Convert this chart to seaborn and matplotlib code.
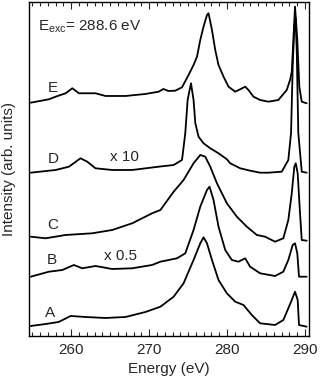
import matplotlib
matplotlib.use("Agg")
import matplotlib.pyplot as plt
import seaborn as sns
from matplotlib.ticker import MultipleLocator

# spectra (energy in eV, intensity in arb. units incl. offset)
energy_e = [254.82, 257.16, 258.02, 259.30, 260.15, 261.00, 262.28, 263.13, 264.41, 266.97,
            269.53, 271.23, 271.83, 272.47, 273.36, 274.22, 275.06, 275.70, 276.14, 276.56,
            276.98, 277.42, 277.62, 278.06, 278.48, 278.90, 279.54, 280.18, 281.04, 281.68,
            282.32, 282.74, 283.38, 284.23, 285.29, 286.57, 287.65, 288.07, 288.29, 288.71,
            289.00, 289.26, 289.57, 290.20]
inten_e = [233.3, 236.7, 239.3, 242.7, 247.7, 242.7, 242.7, 242.7, 240, 240,
           242, 244.3, 247, 245, 245.3, 248.7, 261, 271, 279.3, 296,
           309.3, 321, 322.7, 306, 286, 271, 259.3, 249.3, 244.3, 246.7,
           249.3, 246, 239.3, 236, 234.3, 236, 246, 256, 264.3, 329.3,
           296, 249.3, 234.3, 232.7]

energy_d = [254.82, 258.02, 259.72, 261.21, 262.07, 263.13, 265.27, 267.83, 271.23, 273.15,
            274.22, 274.64, 274.94, 275.37, 275.70, 275.92, 276.34, 276.98, 277.84, 278.90,
            279.97, 280.40, 281.68, 282.96, 284.23, 285.29, 287.01, 287.85, 288.20, 288.41,
            288.62, 288.77, 288.93, 289.13, 289.57, 290.20]
inten_d = [163.3, 166, 169.3, 177.7, 174.3, 167.7, 166, 166, 169.3, 171,
           176, 203, 236, 252.7, 236, 213, 199.3, 192.7, 187.7, 182.7,
           176.7, 172.7, 167.7, 165.3, 163.3, 163.3, 164.3, 176, 203, 269.3,
           309.3, 318, 286, 203, 164.3, 163.3]

energy_c = [254.82, 256.74, 259.30, 262.71, 265.27, 267.83, 270.38, 271.45, 273.15, 274.42,
            275.70, 276.56, 277.20, 277.84, 278.70, 279.97, 281.25, 282.53, 283.81, 284.87,
            286.15, 287.21, 287.85, 288.29, 288.62, 288.80, 289.05, 289.35, 289.57, 290.20]
inten_c = [99.3, 97.7, 101, 102.7, 106, 112.7, 122.7, 126, 144.3, 156,
           172.7, 181, 179.3, 169.3, 152.7, 132.7, 119.3, 109.3, 101, 99.3,
           94.3, 97.7, 116, 142.7, 169.3, 172.7, 162.7, 122.7, 96, 95.3]

energy_b = [254.82, 257.16, 258.87, 260.36, 261.43, 263.13, 265.27, 267.83, 270.38, 271.45,
            273.58, 274.64, 275.70, 276.56, 277.42, 277.75, 278.26, 278.90, 279.76, 280.61,
            281.46, 282.32, 282.95, 284.23, 286.15, 287.21, 287.85, 288.41, 288.71, 289.00,
            289.22, 290.20]
inten_b = [59.3, 64.3, 66, 71, 67.7, 70, 67, 67.7, 71, 74.3,
           77.7, 82.7, 106, 129.3, 146, 149.3, 136, 109.3, 86, 76,
           74.3, 77.7, 69.3, 62.7, 60, 64.3, 76, 91, 92.7, 82.7,
           59.3, 59.3]

energy_a = [254.82, 256.74, 258.40, 259.94, 261.85, 264.41, 266.97, 269.53, 271.45, 273.15,
            274.42, 275.70, 276.56, 276.98, 277.42, 278.06, 278.90, 279.97, 281.04, 282.10,
            283.17, 284.23, 286.15, 287.21, 287.85, 288.29, 288.71, 289.05, 289.22, 290.20]
inten_a = [10, 12, 14, 20, 19, 18, 19, 24, 29.3, 39.3,
           52.7, 76, 92.7, 98.7, 92.7, 76, 56, 42.7, 34.3, 31,
           21, 12.7, 11, 16, 27.7, 36, 44.3, 36, 11, 9.3]

curve_names = ["A", "B", "C", "D", "E"]
curve_label_x = [257.25, 257.5, 257.63, 257.76, 257.63]
curve_label_y = [23, 76, 111, 177, 248]
scale_notes = [("x 10", 265.05, 179), ("x 0.5", 264.16, 80)]

sns.set_style("ticks")
plt.rcParams["font.family"] = ["Liberation Sans", "DejaVu Sans"]
plt.rcParams["mathtext.fontset"] = "custom"
plt.rcParams["mathtext.rm"] = "Liberation Sans"
plt.rcParams["mathtext.it"] = "Liberation Sans"

fig = plt.figure(figsize=(3.2, 3.8), dpi=100)
ax = fig.add_axes([0.0906, 0.1158, 0.875, 0.879])

for xs, ys in [(energy_a, inten_a), (energy_b, inten_b), (energy_c, inten_c),
               (energy_d, inten_d), (energy_e, inten_e)]:
    sns.lineplot(x=xs, y=ys, ax=ax, color="black", lw=1.3)

for name, lx, ly in zip(curve_names, curve_label_x, curve_label_y):
    ax.text(lx, ly, name, fontsize=11, ha="center", va="center")
for txt, lx, ly in scale_notes:
    ax.text(lx, ly, txt, fontsize=11, ha="left", va="center")
ax.text(255.7, 309, r"E$_{\rm exc}$= 288.6 eV", fontsize=11, ha="left", va="center")

ax.set_xlim(254.6, 290.5)
ax.set_ylim(0, 334)
ax.set_yticks([])
ax.set_xticks([260, 270, 280, 290])
ax.xaxis.set_minor_locator(MultipleLocator(1))
ax.tick_params(axis="x", which="both", direction="in", top=True, width=0.8)
ax.tick_params(axis="x", which="major", length=5, labelsize=11, pad=5)
ax.tick_params(axis="x", which="minor", length=3)
for sp in ax.spines.values():
    sp.set_linewidth(1.0)
    sp.set_color("black")

ax.set_xlabel("Energy (eV)", fontsize=11, labelpad=4)
ax.set_ylabel("Intensity (arb. units)", fontsize=11)
ax.yaxis.set_label_coords(-0.047, 0.5)

fig.savefig("out.png", dpi=100)
